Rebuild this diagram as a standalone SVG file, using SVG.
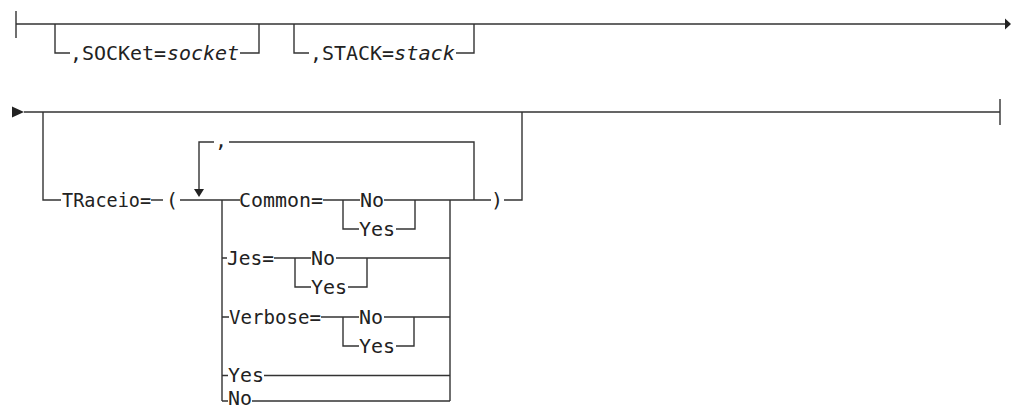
<svg xmlns="http://www.w3.org/2000/svg" width="1011" height="409" viewBox="0 0 1011 409">
<style>
  .ln { fill: none; stroke: #333; stroke-width: 1.4; }
  .ah { fill: #222; stroke: none; }
  text { font-family: "DejaVu Sans Mono", "Liberation Mono", monospace; font-size: 20px; fill: #222; }
  .it { font-style: italic; }
  .sm { font-size: 19px; }
</style>
<rect width="1011" height="409" fill="#fff"/>
<g id="connectors">
  <path class="ln" d="M16,11 V38 M16,24 H1005"/>
  <polygon class="ah" points="1005,18.5 1011,24 1005,29.5"/>
  <path class="ln" d="M55,24 V53 H70 M240,53 H259 V24"/>
  <path class="ln" d="M294,24 V53 H309 M456,53 H474 V24"/>
  <polygon class="ah" points="12,106.5 24,112 12,117.5"/>
  <path class="ln" d="M24,112 H1000 M1000,99 V125"/>
  <path class="ln" d="M43,112 V200 H61 M151,200 H163 M180,200 H240 M323,200 H360 M384,200 H491 M504,200 H522 V112"/>
  <path class="ln" d="M474,200 V142 H229 M214,142 H199 V189"/>
  <polygon class="ah" points="194,189 204,189 199,197"/>
  <path class="ln" d="M222,200 V401 M450,200 V401"/>
  <path class="ln" d="M343,200 V229 H359 M396,229 H415 V200"/>
  <path class="ln" d="M222,258 H227 M274,258 H311 M336,258 H450 M295,258 V287 H311 M348,287 H367 V258"/>
  <path class="ln" d="M222,317 H229 M321,317 H359 M384,317 H450 M343,317 V346 H359 M396,346 H414 V317"/>
  <path class="ln" d="M222,375.5 H228 M264,375.5 H450"/>
  <path class="ln" d="M222,401 H228 M252,401 H450"/>
</g>
<g id="socket">
  <text x="70" y="60" textLength="96" lengthAdjust="spacingAndGlyphs">,SOCKet=</text>
  <text class="it" x="167" y="60" textLength="72" lengthAdjust="spacingAndGlyphs">socket</text>
</g>
<g id="stack">
  <text x="310" y="60" textLength="84" lengthAdjust="spacingAndGlyphs">,STACK=</text>
  <text class="it" x="394" y="60" textLength="61" lengthAdjust="spacingAndGlyphs">stack</text>
</g>
<g id="traceio">
  <text x="62" y="207" textLength="89" lengthAdjust="spacingAndGlyphs">TRaceio=</text>
  <text x="166" y="207">(</text>
  <text x="491" y="207">)</text>
</g>
<g id="repeat-sep">
  <text x="215" y="147">,</text>
</g>
<g id="common">
  <text x="239" y="207" textLength="84" lengthAdjust="spacingAndGlyphs">Common=</text>
  <text x="360" y="207">No</text>
  <text x="359" y="236">Yes</text>
</g>
<g id="jes">
  <text x="227" y="265" textLength="47" lengthAdjust="spacingAndGlyphs">Jes=</text>
  <text x="311" y="265">No</text>
  <text x="311" y="294">Yes</text>
</g>
<g id="verbose">
  <text x="229" y="324" textLength="92" lengthAdjust="spacingAndGlyphs">Verbose=</text>
  <text x="359" y="324">No</text>
  <text x="359" y="353">Yes</text>
</g>
<g id="yes">
  <text class="sm" x="228" y="382" textLength="36" lengthAdjust="spacingAndGlyphs">Yes</text>
</g>
<g id="no">
  <text class="sm" x="228" y="404.5" textLength="24" lengthAdjust="spacingAndGlyphs">No</text>
</g>
</svg>
